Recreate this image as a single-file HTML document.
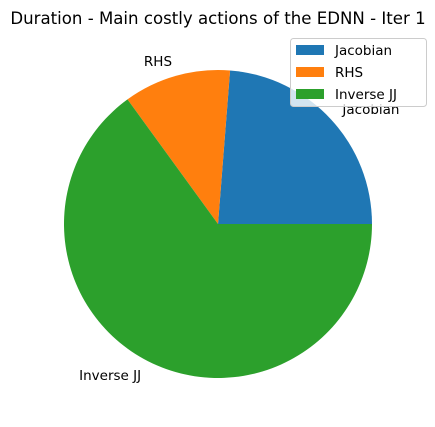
<!DOCTYPE html>
<html><head><meta charset="utf-8"><style>
body{margin:0;background:#fff;}
svg{display:block;font-family:"DejaVu Sans","Liberation Sans",sans-serif;}
</style></head><body>
<svg id="chart" width="435" height="427" viewBox="0 0 435 427">
<rect width="435" height="427" fill="#fff"/>
<text x="218" y="24" text-anchor="middle" font-size="16.6" fill="#000">Duration - Main costly actions of the EDNN - Iter 1</text>
<g id="slices"></g>
<g id="labels"></g>
<g>
<rect x="290.5" y="38.5" width="136" height="68" rx="3" fill="#fff" fill-opacity="0.8" stroke="#ccc"/>
<g id="legend-items"></g>
</g>
</svg>
<script>
const categories = ["Jacobian", "RHS", "Inverse JJ"];
const values = [0.2375, 0.1125, 0.65];
const colors = ["#1f77b4", "#ff7f0e", "#2ca02c"];
const NS = "http://www.w3.org/2000/svg";
const cx = 218, cy = 224, r = 154;
const total = values.reduce((a, b) => a + b, 0);
function pt(angDeg, rad) {
  const a = angDeg * Math.PI / 180;
  return [cx + rad * Math.cos(a), cy - rad * Math.sin(a)];
}
let start = 0;
const slices = document.getElementById("slices");
const labels = document.getElementById("labels");
values.forEach((v, i) => {
  const sweep = v / total * 360;
  const end = start + sweep;
  const [x1, y1] = pt(start, r);
  const [x2, y2] = pt(end, r);
  const p = document.createElementNS(NS, "path");
  p.setAttribute("d", `M${cx},${cy} L${x1},${y1} A${r},${r} 0 ${sweep > 180 ? 1 : 0} 0 ${x2},${y2} Z`);
  p.setAttribute("fill", colors[i]);
  
  
  slices.appendChild(p);
  const mid = start + sweep / 2;
  const [lx, ly] = pt(mid, r * 1.1);
  const t = document.createElementNS(NS, "text");
  t.setAttribute("x", lx);
  t.setAttribute("y", ly + 5);
  t.setAttribute("font-size", "13.5");
  t.setAttribute("text-anchor", lx >= cx ? "start" : "end");
  t.textContent = categories[i];
  
  
  labels.appendChild(t);
  start = end;
});
const leg = document.getElementById("legend-items");
categories.forEach((c, i) => {
  const y = 45 + i * 22;
  const g = document.createElementNS(NS, "g");
  
  
  const rc = document.createElementNS(NS, "rect");
  rc.setAttribute("x", 296); rc.setAttribute("y", y);
  rc.setAttribute("width", 28); rc.setAttribute("height", 10);
  rc.setAttribute("fill", colors[i]);
  const t = document.createElementNS(NS, "text");
  t.setAttribute("x", 335); t.setAttribute("y", y + 10);
  t.setAttribute("font-size", "13.5");
  t.textContent = c;
  g.appendChild(rc); g.appendChild(t);
  leg.appendChild(g);
});
</script>
</body></html>
